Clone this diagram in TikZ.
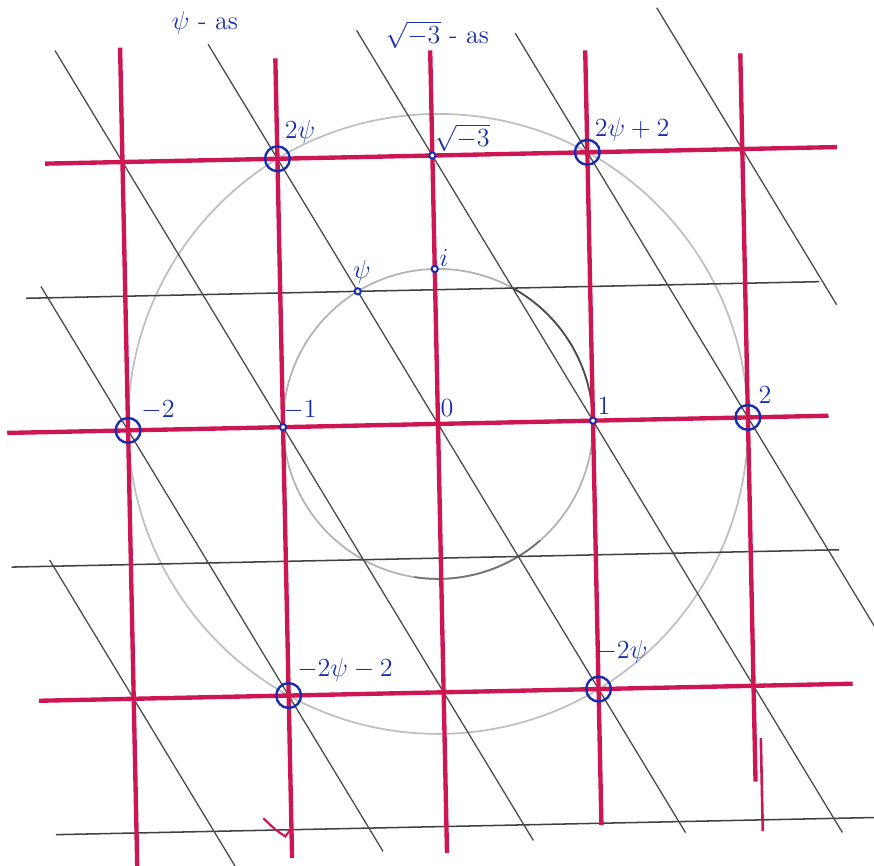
\documentclass[tikz,border=0pt]{standalone}
\definecolor{rood}{RGB}{205,22,82}
\definecolor{blauw}{RGB}{25,45,175}

\begin{document}
\begin{tikzpicture}[scale=2.5, every node/.style={font=\large, text=blauw}]
    \useasboundingbox (-2.826,-2.852) rectangle (2.813,2.735);
    \begin{scope}[rotate=1.2]
    % Окружности радиуса 2 и 1
    \draw[gray!50, line width=0.8pt] (0,0) circle (2);
    \draw[gray!60, line width=0.8pt] (0,0) circle (1);
    \draw[black!70, line width=0.8pt] (60:1) arc (60:-5:1);
    \draw[black!55, line width=0.8pt] (-50:1) arc (-50:-100:1);

    % Чёрные горизонтали
    \foreach \y/\xl/\xr in {0.866/-2.64/2.48, -0.866/-2.77/2.57, -2.598/-2.52/2.8}
        \draw[black!75, line width=0.7pt] (\xl,\y) -- (\xr,\y);

    % Наклонные прямые
    \foreach \a/\yt/\yb in {-3/-0.825/-2.83, -2/0.94/-2.75, -1/2.46/-2.70, 0/2.48/-2.67, 1/2.55/-2.69, 2/2.51/-1.52, 3/2.655/0.715}
        \draw[black!70, line width=0.6pt] ({\a-0.57735*\yt},\yt) -- ({\a-0.57735*\yb},\yb);

    % Красные прямые
    \foreach \y/\xl/\xr in {1.732/-2.50/2.61, 0/-2.78/2.52, -1.732/-2.61/2.64}
        \draw[rood, line width=2pt] (\xl,\y) -- (\xr,\y);
    \foreach \x/\yt/\yb in {-2/2.47/-2.9, -1/2.38/-2.78, 0/2.41/-2.77, 1/2.39/-2.61, 2/2.35/-2.35}
        \draw[rood, line width=2pt] (\x,\yt) -- (\x,\yb);
    \draw[rood, line width=1.2pt] (2.04,-2.07) -- (2.04,-2.67);
    \draw[rood, line width=1pt] (-1.18,-2.52) .. controls (-1.1,-2.6) .. (-1.04,-2.64) -- (-1.01,-2.6);

    % Точки
    \coordinate (Psi) at (-0.5,0.866);
    \coordinate (I) at (0,1);
    \coordinate (E) at (1,0);
    \coordinate (mE) at (-1,0);
    \coordinate (S) at (0,1.732);
    \foreach \p in {(-1,1.732),(1,1.732),(-2,0),(2,0),(-1,-1.732),(1,-1.732)}
        \draw[blauw, line width=1.1pt] \p circle (0.08);
    \foreach \p in {Psi,I,E,mE,S}
        \draw[blauw, line width=0.9pt, fill=white] (\p) circle (0.02);

    % Подписи
    \node (lpsias) at (-1.449,2.62) {$\psi$ - as};
    \node (lsqas) at (0.048,2.51) {$\sqrt{-3}$ - as};
    \node (l2psi) at (-0.851,1.903) {$2\psi$};
    \node (lsq) at (0.194,1.842) {$\sqrt{-3}$};
    \node (l2psi2) at (1.292,1.871) {$2\psi+2$};
    \node (lpsi) at (-0.470,0.991) {$\psi$};
    \node (li) at (0.061,1.070) {$i$};
    \node (l0) at (0.06,0.102) {$0$};
    \node (l1) at (1.073,0.094) {$1$};
    \node (lm1) at (-0.888,0.109) {$-1$};
    \node (lm2) at (-1.804,0.128) {$-2$};
    \node (l2) at (2.114,0.143) {$2$};
    \node (lm2psi2) at (-0.633,-1.574) {$-2\psi-2$};
    \node (lm2psi) at (1.156,-1.496) {$-2\psi$};
    \end{scope}
\end{tikzpicture}
\end{document}
